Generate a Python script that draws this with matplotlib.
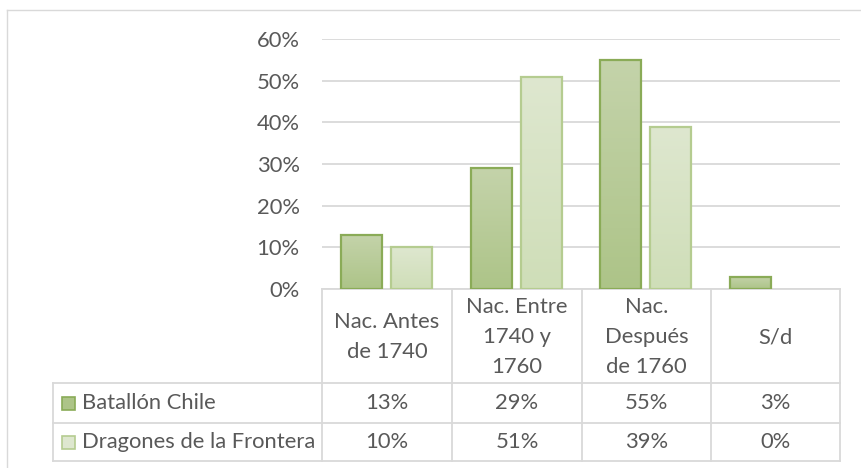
import matplotlib
matplotlib.use("Agg")
import matplotlib.pyplot as plt
import numpy as np
from matplotlib.lines import Line2D
from matplotlib.patches import Rectangle
from matplotlib.colors import LinearSegmentedColormap

categories = ["Nac. Antes\nde 1740", "Nac. Entre\n1740 y\n1760", "Nac.\nDespués\nde 1760", "S/d"]
series_names = ["Batallón Chile", "Dragones de la Frontera"]
batallon = [0.13, 0.29, 0.55, 0.03]
dragones = [0.10, 0.51, 0.39, 0.00]
yticks = [0, 0.1, 0.2, 0.3, 0.4, 0.5, 0.6]

W, H = 862, 468
plt.rcParams['font.family'] = ['Lato', 'DejaVu Sans']
TXT = '#595959'
GRID = '#d9d9d9'
FS = 15.8

fig = plt.figure(figsize=(W / 100, H / 100), dpi=100)
fig.patch.set_facecolor('white')

def fx(x):
    return x / W

def fy(y):
    return 1 - y / H

# background axes in pixel coordinates for frame & table
bg = fig.add_axes([0, 0, 1, 1])
bg.set_xlim(0, W)
bg.set_ylim(H, 0)
bg.axis('off')

# outer frame
bg.add_line(Line2D([7, W + 5], [10, 10], color=GRID, lw=1.0))
bg.add_line(Line2D([7, 7], [10, H + 5], color=GRID, lw=1.0))

x0, x1 = 322, 840
y0, ytop = 289, 39
ax = fig.add_axes([fx(x0), fy(y0), fx(x1) - fx(x0), (y0 - ytop) / H])
ax.set_xlim(-0.5, len(categories) - 0.5)
ax.set_ylim(0, 0.6)
ax.set_yticks(yticks)
ax.set_yticklabels([f"{int(round(v * 100))}%" for v in yticks], color=TXT, fontsize=FS)
ax.tick_params(axis='y', length=0, pad=16)
ax.set_xticks([])
for s in ax.spines.values():
    s.set_visible(False)
ax.grid(axis='y', color=GRID, lw=1.3)
ax.set_axisbelow(True)
ax.patch.set_alpha(0)

styles = [
    dict(top='#c4d3aa', bot='#adc488', edge='#8aab57'),
    dict(top='#dee7cf', bot='#cfdeb8', edge='#b5cc90'),
]
width = 0.315
offsets = [-0.192, 0.192]
xs = np.arange(len(categories))
for vals, st, off in zip([batallon, dragones], styles, offsets):
    bars = ax.bar(xs + off, vals, width=width, color=st['bot'], edgecolor=st['edge'], linewidth=1.6, zorder=3)
    cmap = LinearSegmentedColormap.from_list('g', [st['bot'], st['top']])
    for b in bars:
        h = b.get_height()
        if h <= 0:
            b.set_visible(False)
            continue
        x = b.get_x()
        grad = np.linspace(0, 1, 64).reshape(-1, 1)
        im = ax.imshow(grad, cmap=cmap, origin='lower', aspect='auto',
                       extent=[x, x + b.get_width(), 0, h], zorder=2.9)
        im.set_clip_path(b)
        b.set_facecolor('none')
ax.set_xlim(-0.5, len(categories) - 0.5)
ax.set_ylim(0, 0.6)

# table
cols = [322, 452, 582, 711, 840]
rows = [289, 383, 423, 461]
lc = dict(color=GRID, lw=1.3)
bg.add_line(Line2D([cols[0], cols[-1]], [rows[0], rows[0]], **lc))
for r in rows[1:]:
    bg.add_line(Line2D([53, cols[-1]], [r, r], **lc))
for c in cols:
    bg.add_line(Line2D([c, c], [rows[0], rows[-1]], **lc))
bg.add_line(Line2D([53, 53], [rows[1], rows[-1]], **lc))

for i, cat in enumerate(categories):
    cx = (cols[i] + cols[i + 1]) / 2
    bg.text(cx, (rows[0] + rows[1]) / 2 + 1, cat, ha='center', va='center',
            fontsize=FS, color=TXT, linespacing=1.63)
for j, (name, vals, st) in enumerate(zip(series_names, [batallon, dragones], styles)):
    cy = (rows[j + 1] + rows[j + 2]) / 2
    bg.add_patch(Rectangle((62, cy - 6.5), 13, 13, facecolor=st['top'] if j else st['bot'],
                           edgecolor=st['edge'], lw=1.2))
    bg.text(82, cy, name, ha='left', va='center', fontsize=FS, color=TXT)
    for i, v in enumerate(vals):
        cx = (cols[i] + cols[i + 1]) / 2
        bg.text(cx, cy, f"{int(round(v * 100))}%", ha='center', va='center', fontsize=FS, color=TXT)

fig.savefig('out.png', dpi=100, facecolor='white')
